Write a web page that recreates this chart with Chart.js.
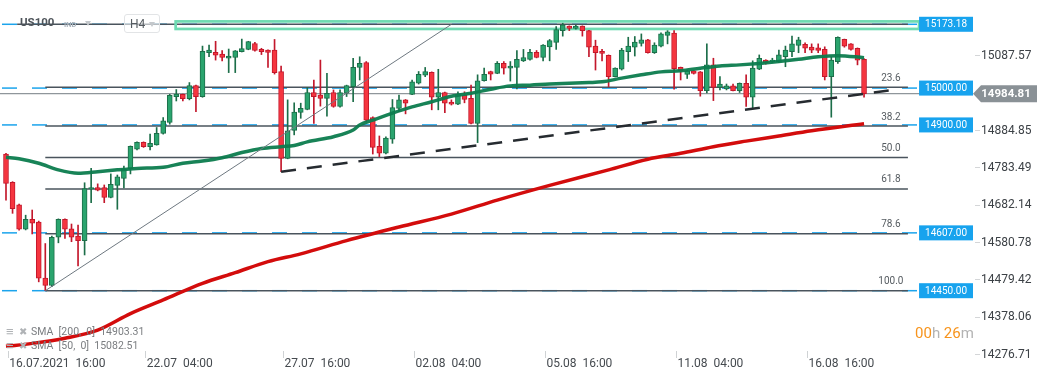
<!DOCTYPE html>
<html><head><meta charset="utf-8">
<script src="https://cdn.jsdelivr.net/npm/chart.js@4.4.1/dist/chart.umd.min.js"></script>
<style>
html,body{margin:0;padding:0;background:#fff;}
#wrap{position:relative;width:1041px;height:379px;overflow:hidden;font-family:Roboto,sans-serif;background:#fff;}
canvas{position:absolute;left:0;top:0;}
.abs{position:absolute;white-space:pre;line-height:1;}
.tri{position:absolute;width:0;height:0;border-left:3.5px solid transparent;border-right:3.5px solid transparent;border-top:5px solid #c4c8cc;}
</style></head><body>
<div id="wrap">
<canvas id="c" width="1041" height="379"></canvas>
<div class="abs" style="left:20px;top:17px;font-weight:bold;font-size:11.5px;color:#4e545a;">US100</div>
<div class="abs" style="left:64px;top:21px;font-weight:bold;font-size:7.5px;color:#aab2ba;">IND</div>
<div class="tri" style="left:85px;top:21px;"></div>
<div class="abs" style="left:124px;top:14px;width:34px;height:17px;border:1px solid #e2e4e6;border-radius:3px;background:rgba(255,255,255,0.6);"></div>
<div class="abs" style="left:130px;top:18px;font-size:12px;color:#555b60;">H4</div>
<div class="tri" style="left:149px;top:22px;"></div>
<div class="abs" style="left:6px;top:325px;font-size:13px;font-weight:bold;color:#b0b3b6;">≡</div>
<div class="abs" style="left:19px;top:327px;font-size:10px;color:#b0b3b6;">✖</div>
<div class="abs" style="left:31px;top:327px;font-size:10.5px;color:#7a7d80;">SMA  [200,  0]  14903.31</div>
<div class="abs" style="left:6px;top:339px;font-size:13px;font-weight:bold;color:#b0b3b6;">≡</div>
<div class="abs" style="left:19px;top:341px;font-size:10px;color:#b0b3b6;">✖</div>
<div class="abs" style="left:31px;top:341px;font-size:10.5px;color:#7a7d80;">SMA  [50,  0]  15082.51</div>
<div class="abs" style="left:915px;top:326px;font-size:15px;"><span style="color:#f7941d">00</span><span style="color:#b3b3b3">h </span><span style="color:#f7941d">26</span><span style="color:#b3b3b3">m</span></div>
</div>
<script>
// ---- candle data (H4, index 0 = 16.07.2021 16:00) ----
const opens = [14821,14744,14683,14617,14644,14636,14484,14464,14595,14644,14618,14598,14586,14726,14730,14730,14703,14736,14755,14781,
14834,14853,14841,14846,14877,14907,14977,14983,14971,15007,14977,15096,15097,15092,15081,15083,15099,15105,15121,15105,
15103,15103,15045,14809,14885,14934,14942,14988,14981,14972,14988,14950,14986,15004,15056,15069,14920,14842,14823,14861,
14945,14968,14983,15013,15035,15043,14975,14988,14962,14956,14981,14972,14904,15020,15045,15040,15067,15054,15056,15074,
15078,15097,15083,15112,15124,15156,15168,15162,15168,15156,15114,15100,15089,15031,15051,15099,15111,15121,15131,15096,
15114,15143,15149,15056,15037,15047,15044,14993,15063,15002,14998,15006,14993,15013,14975,15051,15076,15072,15072,15085,
15099,15116,15119,15111,15109,15105,15031,15072,15132,15120,15108,15078];
const highs = [14823,14746,14685,14655,14669,14639,14578,14598,14645,14645,14631,14628,14743,14782,14740,14737,14767,14764,14788,14843,
14854,14854,14875,14893,14920,14983,14996,14984,15015,15008,15114,15117,15127,15102,15106,15102,15133,15127,15124,15108,
15104,15132,15060,14968,14960,14959,15002,15022,15076,15040,14995,14995,15008,15081,15085,15072,14922,14870,14868,14969,
14981,14969,15022,15045,15056,15044,15051,14989,14968,14990,14990,15008,15036,15054,15046,15072,15072,15072,15102,15105,
15105,15102,15118,15132,15167,15176,15169,15170,15169,15157,15130,15105,15090,15055,15108,15138,15140,15147,15132,15123,
15150,15156,15156,15057,15049,15048,15045,15120,15081,15031,15011,15011,15014,15036,15074,15090,15077,15081,15103,15114,
15141,15138,15123,15120,15120,15112,15085,15139,15133,15121,15109,15080];
const lows = [14696,14660,14614,14615,14604,14474,14450,14461,14580,14592,14583,14517,14547,14689,14721,14689,14702,14671,14729,14767,
14832,14839,14832,14845,14875,14902,14965,14965,14968,14936,14975,15085,15076,15074,15042,15042,15098,15104,15100,15091,
15056,15038,14773,14808,14873,14918,14941,14904,14951,14924,14948,14948,14977,14963,15022,14909,14821,14814,14821,14850,
14936,14930,14982,15011,15031,14941,14941,14933,14954,14955,14960,14903,14852,15019,15022,15039,15038,15019,14998,15072,
15076,15082,15074,15074,15105,15141,15156,15160,15141,15085,15049,15074,15004,15030,15049,15072,15087,15114,15095,15094,
15112,15120,14997,15022,15026,15038,14978,14987,14966,14995,14995,14992,14988,14950,14944,15050,15065,15069,15069,15058,
15085,15096,15096,15096,15096,15022,14921,15067,15111,15103,15063,14975];
const closes = [14741,14673,14617,14644,14633,14484,14464,14595,14644,14617,14595,14586,14727,14730,14723,14703,14739,14759,14781,14842,
14853,14841,14850,14877,14911,14980,14984,14971,15007,14977,15100,15103,15089,15083,15087,15101,15107,15126,15102,15099,
15097,15042,14809,14884,14935,14945,14988,14977,14972,14986,14950,14988,15007,15056,15067,14913,14839,14823,14864,14947,
14968,14959,15017,15037,15045,14975,14988,14959,14956,14984,14969,14904,15020,15037,15038,15067,15054,15060,15078,15083,
15097,15083,15117,15129,15159,15172,15162,15168,15156,15111,15096,15094,15031,15054,15103,15114,15125,15131,15096,15117,
15147,15153,15053,15047,15047,15040,14993,15063,15002,15011,15006,14993,15013,14975,15054,15081,15069,15076,15090,15103,
15120,15131,15108,15103,15102,15031,15076,15138,15114,15105,15076,14984.81];

// ---- moving averages (candle index / value) ----
const sma50X = [0,2,5,8,11,14,17,20,24,27,30,33,36,39,42,44,46,50,53,54,56,59,62,65,68,71,74,77,80,83,86,89,91,94,97,100,103,106,109,112,115,118,121,124,127,131];
const sma50Y = [14812,14808,14796,14778,14769,14773,14778,14782,14785,14796,14802,14811,14825,14836,14841,14844,14854,14868,14886,14900,14913,14932,14949,14963,14978,14986,14997,15006,15008,15011,15013,15015,15017,15027,15036,15044,15047,15054,15060,15063,15067,15072,15078,15085,15088,15082.51];
const sma200X = [0,4,9,14,19,24,30,35,40,45,52,60,68,75,83,92,98,103,108,113,118,123,131];
const sma200Y = [14299,14307,14321,14343,14388,14425,14470,14499,14529,14550,14586,14623,14658,14696,14736,14778,14807,14823,14841,14856,14870,14884,14903.31];

// ---- drawings ----
const trendX = [42,135], trendY = [14773,14994];
const diagX = [6,68], diagY = [14450,15173];
const fibRatios = [23.6,38.2,50.0,61.8,78.6,100.0];
const fibHigh = 15173, fibLow = 14450;
const blueLevels = [15173.18,15000.00,14900.00,14607.00,14450.00];
const zoneLow = 15160.5, zoneHigh = 15181;
const lastPrice = 14984.81;

// ---- axes ----
const tickIdx = [0,21,42,62,82,102,122];
const tickLabels = ['16.07.2021  16:00','22.07  04:00','27.07  16:00','02.08  04:00','05.08  16:00','11.08  04:00','16.08  16:00'];
const yTicks = [15087.57,14884.85,14783.49,14682.14,14580.78,14479.42,14378.06,14276.71];

const G_FILL='#2aa46e', G_LINE='#1c6e49', R_FILL='#f5353f', R_LINE='#c3172b';
const idx = opens.map((_,i)=>i);
const isUp = i => closes[i] >= opens[i];

const annot = {
  id:'annot',
  beforeDatasetsDraw(ch){
    const {ctx, chartArea:a, scales:{x,y}} = ch;
    const X=v=>x.getPixelForValue(v), Y=v=>y.getPixelForValue(v);
    ctx.save();
    const blueEnd = X(139.4);
    ctx.strokeStyle='#1ca4ec'; ctx.lineWidth=1.5; ctx.setLineDash([15,15]); ctx.lineDashOffset=28;
    blueLevels.forEach(v=>{const yy=Y(v); ctx.beginPath(); ctx.moveTo(a.left,yy); ctx.lineTo(blueEnd,yy); ctx.stroke();});
    ctx.setLineDash([]);
    ctx.strokeStyle='#8f969b'; ctx.lineWidth=1.3;
    ctx.beginPath(); ctx.moveTo(a.left,Y(lastPrice)); ctx.lineTo(a.right-2,Y(lastPrice)); ctx.stroke();
    ctx.strokeStyle='#4a545d'; ctx.lineWidth=1.5;
    const fEnd = X(137.7);
    ctx.beginPath(); ctx.moveTo(X(1.7),Y(blueLevels[0])); ctx.lineTo(fEnd,Y(blueLevels[0])); ctx.stroke();
    ctx.font='10px Roboto'; ctx.fillStyle='#555b60'; ctx.textAlign='center'; ctx.textBaseline='middle';
    fibRatios.forEach(r=>{
      const v = fibHigh - r/100*(fibHigh-fibLow); const yy=Y(v);
      ctx.beginPath(); ctx.moveTo(X(6),yy); ctx.lineTo(fEnd,yy); ctx.stroke();
      ctx.fillText(r.toFixed(1), X(135.1), yy-9);
    });
    ctx.strokeStyle='#6fdbb2'; ctx.lineWidth=2.7;
    ctx.strokeRect(X(25.9), Y(zoneHigh), blueEnd-X(25.9), Y(zoneLow)-Y(zoneHigh));
    ctx.restore();
  },
  afterDraw(ch){
    const {ctx, chartArea:a, scales:{x,y}} = ch;
    const X=v=>x.getPixelForValue(v), Y=v=>y.getPixelForValue(v);
    ctx.save();
    const bx = X(139.4), br = a.right-2;
    ctx.font='10px Roboto'; ctx.textAlign='center'; ctx.textBaseline='middle';
    blueLevels.forEach(v=>{
      const yy=Y(v);
      ctx.fillStyle='#17a3ee'; ctx.fillRect(bx, yy-7.5, br-bx, 15);
      ctx.fillStyle='#ffffff'; ctx.fillText(v.toFixed(2), (bx+br)/2, yy+0.5);
    });
    const py = Y(lastPrice);
    ctx.fillStyle='#8a9196';
    ctx.beginPath(); ctx.moveTo(br,py); ctx.lineTo(br+8,py-8.5); ctx.lineTo(1037,py-8.5); ctx.lineTo(1037,py+8.5); ctx.lineTo(br+8,py+8.5); ctx.closePath(); ctx.fill();
    ctx.fillStyle='#ffffff'; ctx.font='bold 11.5px Roboto';
    ctx.fillText(lastPrice.toFixed(2), 1006, py+0.5);
    ctx.restore();
  }
};

Chart.defaults.font.family = 'Roboto, sans-serif';
new Chart(document.getElementById('c'), {
  type:'bar',
  data:{datasets:[
    {type:'line', data:trendX.map((v,i)=>({x:v,y:trendY[i]})), borderColor:'#262b30', borderWidth:2.5, borderDash:[15,11], pointRadius:0, order:0},
    {type:'line', data:diagX.map((v,i)=>({x:v,y:diagY[i]})), borderColor:'#6e7880', borderWidth:1, pointRadius:0, order:0},
    {type:'line', data:sma50X.map((v,i)=>({x:v,y:sma50Y[i]})), borderColor:'rgba(12,124,78,0.95)', borderWidth:3.5, pointRadius:0, cubicInterpolationMode:'monotone', order:1},
    {type:'line', data:sma200X.map((v,i)=>({x:v,y:sma200Y[i]})), borderColor:'#d30c0c', borderWidth:3.5, pointRadius:0, cubicInterpolationMode:'monotone', order:1},
    {type:'bar', data:idx.map(i=>({x:i,y:[opens[i],closes[i]]})),
      backgroundColor:c=>c.dataIndex==null?G_FILL:(isUp(c.dataIndex)?G_FILL:R_FILL),
      borderColor:c=>c.dataIndex==null?G_LINE:(isUp(c.dataIndex)?G_LINE:R_LINE),
      borderWidth:1, borderSkipped:false, barThickness:5, minBarLength:1.5, grouped:false, order:2},
    {type:'bar', data:idx.map(i=>({x:i,y:[lows[i],highs[i]]})),
      backgroundColor:c=>c.dataIndex==null?G_LINE:(isUp(c.dataIndex)?G_LINE:R_LINE),
      borderWidth:0, barThickness:1, grouped:false, order:3}
  ]},
  options:{
    responsive:false, animation:false, devicePixelRatio:1,
    layout:{padding:0, autoPadding:false},
    plugins:{legend:{display:false}, tooltip:{enabled:false}},
    scales:{
      x:{type:'linear', min:-0.916, max:147.94, offset:false,
        grid:{display:true, offset:false, drawOnChartArea:false, drawTicks:true, tickLength:7, color:'#cfd2d4'},
        border:{display:false},
        afterBuildTicks:s=>{s.ticks = tickIdx.map(v=>({value:v+0.35}));},
        afterFit:s=>{s.height=28; s.paddingLeft=0; s.paddingRight=0;},
        ticks:{autoSkip:false, maxRotation:0, minRotation:0, align:'start', padding:-1, labelOffset:1, color:'#454a4f', font:{size:12},
          callback:(v,i)=>tickLabels[i]}},
      y:{type:'linear', position:'right', min:14286.32, max:15239.09, beginAtZero:false,
        grid:{drawOnChartArea:false, tickLength:5, color:'#d4d6d8'},
        border:{display:false},
        afterBuildTicks:s=>{s.ticks = yTicks.map(v=>({value:v}));},
        afterFit:s=>{s.width=66; s.paddingTop=0; s.paddingBottom=0;},
        ticks:{autoSkip:false, padding:1, color:'#3c4146', font:{size:12}, callback:v=>v.toFixed(2)}}
    }
  },
  plugins:[annot]
});
</script>
</body></html>
